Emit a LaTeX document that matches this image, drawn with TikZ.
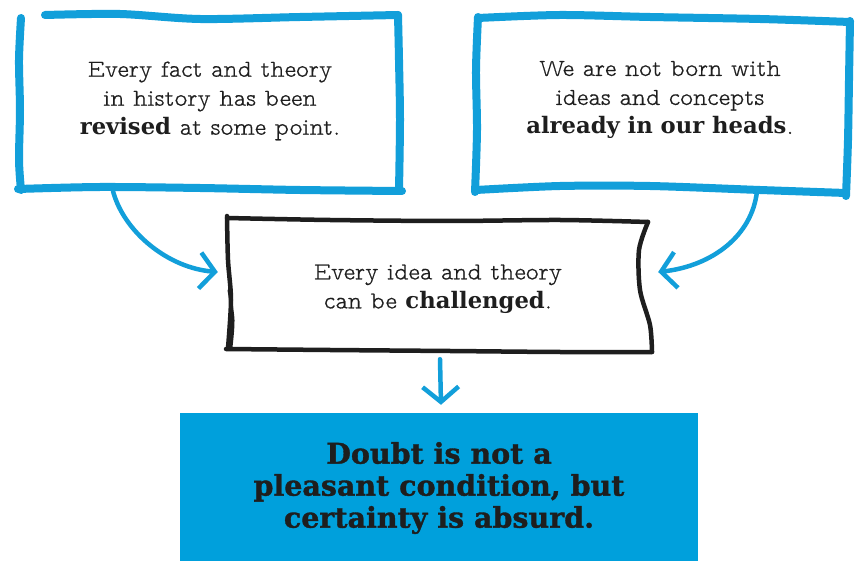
\documentclass[tikz,border=0pt]{standalone}
\usepackage{fontspec}
\setmainfont{lmmonoproplt10-regular.otf}[FakeBold=0.6]
\newfontfamily\boldslab{DejaVu Serif Bold}[Scale=0.93]
\newfontfamily\heavyfont{DejaVu Serif Bold}[FakeBold=1.2]
\newcommand{\hb}[1]{{\boldslab #1}}
\usetikzlibrary{arrows.meta}
\definecolor{skyb}{HTML}{129FDA}
\definecolor{skyfill}{HTML}{00A0DC}
\definecolor{ink}{HTML}{1E1E1E}
\tikzset{
  frame/.style={draw=none, inner sep=0pt, rectangle},
  bluestroke/.style={draw=skyb, line width=8pt, line cap=round, line join=round},
  blackstroke/.style={draw=ink, line width=4.5pt, line cap=round, line join=round},
  bodytext/.style={align=center, text=ink, font=\fontsize{24.4}{29}\selectfont, inner sep=0pt},
  bigtext/.style={align=center, text=ink, font=\heavyfont\fontsize{28.5}{32}\selectfont, inner sep=0pt},
  arr/.style={draw=skyb, line width=4.5pt, line cap=round, -{Straight Barb[length=15pt,width=36pt,line width=4.5pt]}},
}
\begin{document}
\begin{tikzpicture}[x=1pt,y=-1pt]
\useasboundingbox (0,0) rectangle (857,561);
\fill[white] (0,0) rectangle (857,561);

% anchor frames
\node[frame, minimum width=380pt, minimum height=176pt] (fact) at (209,103) {};
\node[frame, minimum width=370pt, minimum height=174pt] (born) at (662,104) {};
\node[frame, minimum width=440pt, minimum height=134pt] (idea) at (438,285) {};
\node[frame, fill=skyfill, minimum width=518pt, minimum height=160pt] (doubt) at (439,493) {};

% left blue frame
\draw[bluestroke] plot[smooth] coordinates {(21,18) (19,60) (20,110) (19,160) (21,190)};
\draw[bluestroke] plot[smooth] coordinates {(45,15) (120,14) (200,19) (300,17) (398,15)};
\draw[bluestroke] plot[smooth] coordinates {(398,15) (399,60) (400,120) (399,190)};
\draw[bluestroke] plot[smooth] coordinates {(18,189) (100,187) (200,188) (300,190) (402,191)};

% right blue frame
\draw[bluestroke] plot[smooth] coordinates {(478,17) (476,70) (477,130) (475,192)};
\draw[bluestroke] plot[smooth] coordinates {(478,18) (560,15) (650,17) (760,19) (850,22)};
\draw[bluestroke] plot[smooth] coordinates {(850,21) (849,80) (848,140) (846,196)};
\draw[bluestroke] plot[smooth] coordinates {(476,190) (560,186) (650,186) (760,190) (846,193)};

% middle black frame
\draw[blackstroke] plot[smooth] coordinates {(227,218) (330,220) (450,221) (560,220) (648,222)};
\draw[blackstroke] plot[smooth] coordinates {(648,222) (639,250) (640,290) (650,325) (652,352)};
\draw[blackstroke] plot[smooth] coordinates {(226,349) (330,350) (450,351) (560,352) (652,352)};
\draw[blackstroke] plot[smooth] coordinates {(227,216) (228,260) (231,300) (228,348)};
\draw[blackstroke, line width=3pt] plot[smooth] coordinates {(229,290) (233,320) (231,347)};

% texts
\node[bodytext] (facttext) at (210,101) {Every fact and theory\\in history has been\\\hb{revised} at some point.};
\node[bodytext] (borntext) at (660,100) {We are not born with\\ideas and concepts\\\hb{already in our heads}.};
\node[bodytext] (ideatext) at (438,289) {Every idea and theory\\can be \hb{challenged}.};
\node[bigtext] (doubttext) at (439,488) {Doubt is not a\\pleasant condition, but\\certainty is absurd.};

% connectors
\draw[arr] ([xshift=-96pt]fact.south) .. controls (124,232) and (168,268) .. ([yshift=13pt]idea.west);
\draw[arr] ([xshift=95pt]born.south) .. controls (752,236) and (712,266) .. ([yshift=13pt]idea.east);
\draw[arr] ([xshift=2pt,yshift=-7pt]idea.south) -- ([xshift=2pt,yshift=8pt]doubt.north);
\end{tikzpicture}
\end{document}
